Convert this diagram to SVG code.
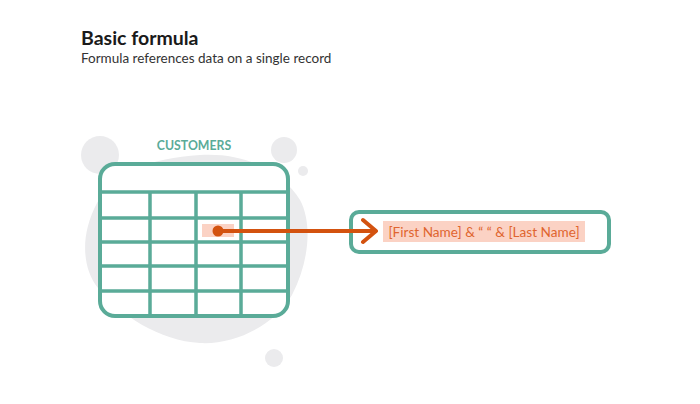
<svg xmlns="http://www.w3.org/2000/svg" width="700" height="404" viewBox="0 0 700 404">
<style>
.bg{fill:#ebebed}
.tbl{fill:none;stroke:#5aab98;stroke-width:4}
.grid{stroke:#5aab98;stroke-width:3.5;fill:none}
.hl{fill:#fbd2c4}
.conn{stroke:#d3520f;stroke-width:4;fill:none;stroke-linecap:round;stroke-linejoin:round}
.t{font-family:Lato,"Open Sans","Liberation Sans",sans-serif}
</style>
<rect width="700" height="404" fill="#ffffff"/>
<g id="title">
<text class="t" x="81" y="45" font-size="19.5" font-weight="700" fill="#1a1a1a">Basic formula</text>
<text class="t" x="81" y="63" font-size="13.5" fill="#333333">Formula references data on a single record</text>
</g>
<g id="background">
<circle class="bg" cx="100" cy="155" r="19"/>
<circle class="bg" cx="284" cy="150" r="13"/>
<circle class="bg" cx="303" cy="171" r="5"/>
<circle class="bg" cx="274" cy="358" r="9"/>
<path class="bg" d="M 200 155 C 250 152, 285 175, 300 200 C 312 222, 310 260, 292 295 C 275 325, 235 345, 200 343 C 160 341, 120 315, 98 288 C 82 268, 80 235, 97 203 C 115 172, 150 158, 200 155 Z"/>
</g>
<g id="customers">
<text class="t" x="194" y="150" font-size="12.3" font-weight="700" fill="#5aab98" text-anchor="middle">CUSTOMERS</text>
<rect x="100" y="164" width="188" height="152" rx="15" fill="#ffffff"/>
<rect class="hl" x="202" y="224" width="32" height="13"/>
<path class="grid" d="M100 192H288M100 218H288M100 242H288M100 266H288M100 291H288M150 192V316M196 192V316M241 192V316"/>
<rect class="tbl" x="100" y="164" width="188" height="152" rx="15"/>
</g>
<g id="formula">
<rect x="351" y="212" width="258" height="40" rx="8" fill="#ffffff" stroke="#5aab98" stroke-width="4"/>
<rect class="hl" x="383" y="221" width="202" height="21"/>
<text class="t" x="484" y="237" font-size="13.6" fill="#e0652f" text-anchor="middle">[First Name] &amp; “ “ &amp; [Last Name]</text>
</g>
<g id="connectors">
<circle cx="218" cy="231" r="5.5" fill="#d3520f"/>
<path class="conn" d="M218 231H375M363 220L376 231L363 242"/>
</g>
</svg>
